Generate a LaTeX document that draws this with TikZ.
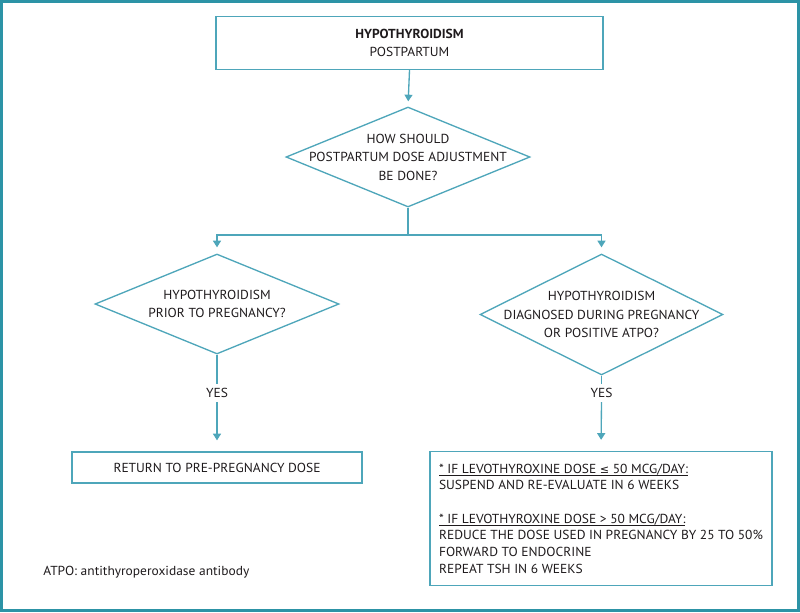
\documentclass[tikz,border=0pt]{standalone}
\usepackage{fontspec}
\setmainfont{PT Sans}[FakeStretch=1.03]
\newfontfamily\symfont{DejaVu Sans}
\usetikzlibrary{shapes.geometric,arrows.meta}
\definecolor{frameteal}{RGB}{44,147,166}
\definecolor{lineteal}{RGB}{78,166,186}
\definecolor{ink}{RGB}{30,26,28}
\newcommand{\ulline}[1]{\underline{\raisebox{0pt}[\height][0pt]{#1}}}
\begin{document}
\begin{tikzpicture}[x=0.75pt,y=-0.75pt,
  every node/.style={text=ink,font=\fontsize{9.8}{13}\selectfont},
  conn/.style={draw=lineteal,line width=1pt},
  arr/.style={conn,-{Triangle[width=6pt,length=5pt]}},
  boxnode/.style={draw=lineteal,line width=1pt,rectangle,inner sep=0pt,align=center},
  dia/.style={draw=lineteal,line width=1pt,diamond,inner sep=0pt},
  lbl/.style={align=center,inner sep=0pt,font=\fontsize{9.8}{13.9}\selectfont},
  yes/.style={inner xsep=1pt,inner ysep=3pt}]
\useasboundingbox (0,0) rectangle (800,612);
\draw[frameteal,line width=2.25pt] (1.5,1.5) rectangle (798.5,610.5);

\node[boxnode,minimum width=290.25pt,minimum height=39.75pt] (top) at (409.5,43)
  {\textbf{HYPOTHYROIDISM}\\POSTPARTUM};

\node[dia,minimum width=183pt,minimum height=75pt] (d1) at (408,157) {};
\node[lbl] (t1) at (d1) {HOW SHOULD\\POSTPARTUM DOSE ADJUSTMENT\\BE DONE?};

\node[dia,minimum width=183pt,minimum height=75pt] (dL) at (217,304) {};
\node[lbl] (tL) at (dL) {HYPOTHYROIDISM\\PRIOR TO PREGNANCY?};

\node[dia,minimum width=182.25pt,minimum height=90.75pt] (dR) at (601.5,314.5) {};
\node[lbl] (tR) at (dR) {HYPOTHYROIDISM\\DIAGNOSED DURING PREGNANCY\\OR POSITIVE ATPO?};

\node[yes] (yesL) at (217,393) {YES};
\node[yes] (yesR) at (601.5,393) {YES};

\node[boxnode,minimum width=217.5pt,minimum height=23.25pt] (bL) at (217,467.5)
  {RETURN TO PRE-PREGNANCY DOSE};

\node[boxnode,minimum width=256.5pt,minimum height=100.5pt,align=left,
  font=\fontsize{9.8}{12.5}\selectfont] (bR) at (601,518.5)
  {\ulline{* IF LEVOTHYROXINE DOSE {\symfont\fontsize{8.4}{12.5}\selectfont ≤} 50 MCG/DAY:}\\
   SUSPEND AND RE-EVALUATE IN 6 WEEKS\\[12.5pt]
   \ulline{* IF LEVOTHYROXINE DOSE > 50 MCG/DAY:}\\
   REDUCE THE DOSE USED IN PREGNANCY BY 25 TO 50\%\\
   FORWARD TO ENDOCRINE\\
   REPEAT TSH IN 6 WEEKS};

\node[anchor=west,inner sep=0pt] (note) at (43,572) {ATPO: antithyroperoxidase antibody};

\coordinate (j) at (408,235);
\draw[arr,shorten >=3.75pt] (top.south) -- (d1.north);
\draw[conn] (d1.south) -- (j);
\draw[arr,shorten >=4.5pt] (j) -| (dL.north);
\draw[arr,shorten >=4.5pt] (j) -| (dR.north);
\draw[conn] (dL.south) -- (yesL.north);
\draw[arr,shorten >=8.25pt] (yesL.south) -- (bL.north);
\draw[conn] (dR.south) -- (yesR.north);
\draw[arr,shorten >=8.25pt] (yesR.south) -- (bR.north);
\end{tikzpicture}
\end{document}
